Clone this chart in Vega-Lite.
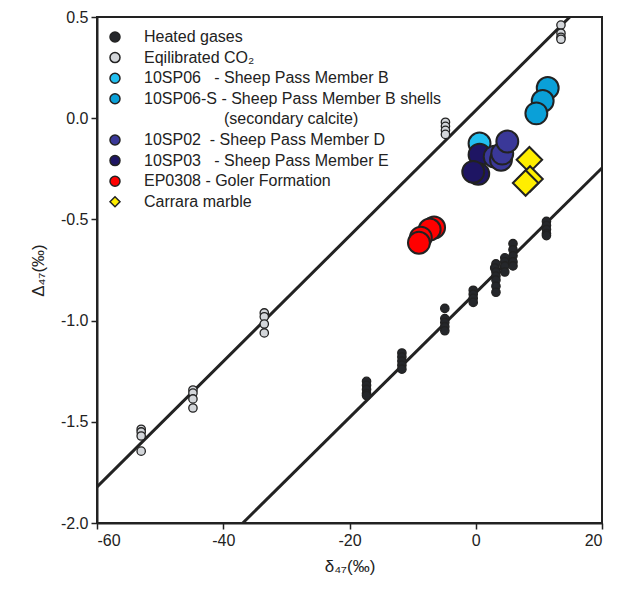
{
  "$schema": "https://vega.github.io/schema/vega-lite/v6.json",
  "width": 505,
  "height": 506,
  "autosize": "none",
  "padding": {"left": 97, "top": 17, "right": 18, "bottom": 66},
  "config": {
    "font": "Liberation Sans",
    "view": {"stroke": "#222", "strokeWidth": 2},
    "axis": {"grid": false, "domainColor": "#222", "domainWidth": 2, "tickColor": "#222", "tickWidth": 1.5, "tickSize": 6, "labelFontSize": 16, "labelColor": "#222", "labelPadding": 3, "titleFontSize": 17, "titleFontWeight": "normal", "titleColor": "#222"}
  },
  "datasets": {
    "lines": [
      {"line": "eq", "delta47": -60, "Delta47": -1.822},
      {"line": "eq", "delta47": 14.9, "Delta47": 0.5},
      {"line": "hg", "delta47": -36.9, "Delta47": -2.0},
      {"line": "hg", "delta47": 20, "Delta47": -0.246}
    ],
    "gases": [
      {"group": "EQ", "delta47": -53.0, "Delta47": -1.537},
      {"group": "EQ", "delta47": -53.0, "Delta47": -1.55},
      {"group": "EQ", "delta47": -53.0, "Delta47": -1.57},
      {"group": "EQ", "delta47": -53.0, "Delta47": -1.645},
      {"group": "EQ", "delta47": -44.8, "Delta47": -1.343},
      {"group": "EQ", "delta47": -44.8, "Delta47": -1.358},
      {"group": "EQ", "delta47": -44.8, "Delta47": -1.387},
      {"group": "EQ", "delta47": -44.8, "Delta47": -1.432},
      {"group": "EQ", "delta47": -33.5, "Delta47": -0.962},
      {"group": "EQ", "delta47": -33.5, "Delta47": -0.981},
      {"group": "EQ", "delta47": -33.5, "Delta47": -1.017},
      {"group": "EQ", "delta47": -33.5, "Delta47": -1.061},
      {"group": "EQ", "delta47": -4.8, "Delta47": -0.02},
      {"group": "EQ", "delta47": -4.8, "Delta47": -0.04},
      {"group": "EQ", "delta47": -4.8, "Delta47": -0.06},
      {"group": "EQ", "delta47": -4.8, "Delta47": -0.08},
      {"group": "EQ", "delta47": 13.5, "Delta47": 0.46},
      {"group": "EQ", "delta47": 13.5, "Delta47": 0.42},
      {"group": "EQ", "delta47": 13.5, "Delta47": 0.40},
      {"group": "EQ", "delta47": 13.5, "Delta47": 0.39},
      {"group": "HG", "delta47": -17.3, "Delta47": -1.30},
      {"group": "HG", "delta47": -17.3, "Delta47": -1.32},
      {"group": "HG", "delta47": -17.3, "Delta47": -1.34},
      {"group": "HG", "delta47": -17.3, "Delta47": -1.36},
      {"group": "HG", "delta47": -17.3, "Delta47": -1.37},
      {"group": "HG", "delta47": -11.7, "Delta47": -1.16},
      {"group": "HG", "delta47": -11.7, "Delta47": -1.18},
      {"group": "HG", "delta47": -11.7, "Delta47": -1.20},
      {"group": "HG", "delta47": -11.7, "Delta47": -1.22},
      {"group": "HG", "delta47": -11.7, "Delta47": -1.24},
      {"group": "HG", "delta47": -4.9, "Delta47": -0.94},
      {"group": "HG", "delta47": -4.9, "Delta47": -0.99},
      {"group": "HG", "delta47": -4.9, "Delta47": -1.01},
      {"group": "HG", "delta47": -4.9, "Delta47": -1.03},
      {"group": "HG", "delta47": -4.9, "Delta47": -1.05},
      {"group": "HG", "delta47": -0.4, "Delta47": -0.85},
      {"group": "HG", "delta47": -0.4, "Delta47": -0.87},
      {"group": "HG", "delta47": -0.4, "Delta47": -0.89},
      {"group": "HG", "delta47": -0.4, "Delta47": -0.91},
      {"group": "HG", "delta47": 3.2, "Delta47": -0.72},
      {"group": "HG", "delta47": 3.0, "Delta47": -0.74},
      {"group": "HG", "delta47": 3.2, "Delta47": -0.76},
      {"group": "HG", "delta47": 3.2, "Delta47": -0.78},
      {"group": "HG", "delta47": 3.2, "Delta47": -0.80},
      {"group": "HG", "delta47": 3.2, "Delta47": -0.83},
      {"group": "HG", "delta47": 3.2, "Delta47": -0.86},
      {"group": "HG", "delta47": 4.6, "Delta47": -0.69},
      {"group": "HG", "delta47": 4.6, "Delta47": -0.71},
      {"group": "HG", "delta47": 4.6, "Delta47": -0.73},
      {"group": "HG", "delta47": 4.6, "Delta47": -0.76},
      {"group": "HG", "delta47": 5.9, "Delta47": -0.62},
      {"group": "HG", "delta47": 5.9, "Delta47": -0.65},
      {"group": "HG", "delta47": 5.9, "Delta47": -0.68},
      {"group": "HG", "delta47": 5.9, "Delta47": -0.71},
      {"group": "HG", "delta47": 5.9, "Delta47": -0.73},
      {"group": "HG", "delta47": 11.2, "Delta47": -0.51},
      {"group": "HG", "delta47": 11.2, "Delta47": -0.53},
      {"group": "HG", "delta47": 11.2, "Delta47": -0.55},
      {"group": "HG", "delta47": 11.2, "Delta47": -0.57},
      {"group": "HG", "delta47": 11.2, "Delta47": -0.58}
    ],
    "samples": [
      {"group": "SP06", "delta47": 0.6, "Delta47": -0.125},
      {"group": "SP03", "delta47": 0.6, "Delta47": -0.18},
      {"group": "SP03", "delta47": 0.4, "Delta47": -0.275},
      {"group": "SP03", "delta47": -0.4, "Delta47": -0.265},
      {"group": "SP02", "delta47": 3.0, "Delta47": -0.19},
      {"group": "SP02", "delta47": 4.0, "Delta47": -0.205},
      {"group": "SP02", "delta47": 4.2, "Delta47": -0.175},
      {"group": "SP02", "delta47": 5.0, "Delta47": -0.115},
      {"group": "SP06S", "delta47": 11.4, "Delta47": 0.149},
      {"group": "SP06S", "delta47": 10.6, "Delta47": 0.085},
      {"group": "SP06S", "delta47": 9.6, "Delta47": 0.024},
      {"group": "EP", "delta47": -6.6, "Delta47": -0.54},
      {"group": "EP", "delta47": -7.3, "Delta47": -0.55},
      {"group": "EP", "delta47": -8.7, "Delta47": -0.59},
      {"group": "EP", "delta47": -9.0, "Delta47": -0.615},
      {"group": "CM", "delta47": 8.5, "Delta47": -0.205},
      {"group": "CM", "delta47": 8.6, "Delta47": -0.30},
      {"group": "CM", "delta47": 7.9, "Delta47": -0.32}
    ]
  },
  "encoding": {
    "x": {"field": "delta47", "type": "quantitative", "scale": {"domain": [-60, 20], "nice": false, "zero": false},
      "axis": {"values": [-60, -40, -20, 0, 20], "title": "δ₄₇(‰)", "titlePadding": 10,
        "labelExpr": "datum.value < 0 ? '-' + format(-datum.value, 'd') : format(datum.value, 'd')"}},
    "y": {"field": "Delta47", "type": "quantitative", "scale": {"domain": [-2, 0.5], "nice": false, "zero": false},
      "axis": {"values": [-2, -1.5, -1, -0.5, 0, 0.5], "title": "Δ₄₇(‰)", "titlePadding": 13,
        "labelExpr": "datum.value < 0 ? '-' + format(-datum.value, '.1f') : format(datum.value, '.1f')"}}
  },
  "layer": [
    {
      "data": {"name": "lines"},
      "mark": {"type": "line", "color": "#222", "strokeWidth": 3, "clip": true},
      "encoding": {"detail": {"field": "line", "type": "nominal"}}
    },
    {
      "data": {"name": "gases"},
      "mark": {"type": "point", "filled": true, "size": 70, "stroke": "#222", "strokeWidth": 1.3, "opacity": 1},
      "encoding": {
        "fill": {"field": "group", "type": "nominal",
          "scale": {"domain": ["HG", "EQ", "SP06", "SP06S", "SEC", "SP02", "SP03", "EP", "CM"],
                    "range": ["#25272b", "#d3d6da", "#22bff0", "#0aa0d8", "#ffffff", "#3a3898", "#1e1563", "#ff0000", "#ffee00"]},
          "legend": {"title": null, "orient": "none", "legendX": 10, "legendY": 12, "padding": 0, "labelFontSize": 16, "labelColor": "#222", "labelFont": "Liberation Sans", "labelLimit": 500, "symbolSize": 100, "symbolOpacity": 1, "rowPadding": 4.6, "labelOffset": 21,
            "encode": {"symbols": {"update": {"stroke": {"value": "#222"}, "strokeWidth": {"value": 1.2}}}},
            "labelExpr": "{'HG':'Heated gases','EQ':'Eqilibrated CO₂','SP06':'10SP06\u00a0\u00a0\u00a0- Sheep Pass Member B','SP06S':'10SP06-S - Sheep Pass Member B shells','SEC':'\u200b\u00a0\u00a0\u00a0\u00a0\u00a0\u00a0\u00a0\u00a0\u00a0\u00a0\u00a0\u00a0\u00a0\u00a0\u00a0\u00a0\u00a0\u00a0(secondary calcite)','SP02':'10SP02\u00a0\u00a0- Sheep Pass Member D','SP03':'10SP03\u00a0\u00a0\u00a0- Sheep Pass Member E','EP':'EP0308 - Goler Formation','CM':'Carrara marble'}[datum.label]"}},
        "shape": {"field": "group", "type": "nominal",
          "scale": {"domain": ["HG", "EQ", "SP06", "SP06S", "SEC", "SP02", "SP03", "EP", "CM"],
                    "range": ["circle", "circle", "circle", "circle", "M0,0", "circle", "circle", "circle", "diamond"]},
          "legend": {"title": null, "orient": "none", "legendX": 10, "legendY": 12, "padding": 0, "labelFontSize": 16, "labelColor": "#222", "labelFont": "Liberation Sans", "labelLimit": 500, "symbolSize": 100, "symbolOpacity": 1, "rowPadding": 4.6, "labelOffset": 21,
            "encode": {"symbols": {"update": {"stroke": {"value": "#222"}, "strokeWidth": {"value": 1.2}}}},
            "labelExpr": "{'HG':'Heated gases','EQ':'Eqilibrated CO₂','SP06':'10SP06\u00a0\u00a0\u00a0- Sheep Pass Member B','SP06S':'10SP06-S - Sheep Pass Member B shells','SEC':'\u200b\u00a0\u00a0\u00a0\u00a0\u00a0\u00a0\u00a0\u00a0\u00a0\u00a0\u00a0\u00a0\u00a0\u00a0\u00a0\u00a0\u00a0\u00a0(secondary calcite)','SP02':'10SP02\u00a0\u00a0- Sheep Pass Member D','SP03':'10SP03\u00a0\u00a0\u00a0- Sheep Pass Member E','EP':'EP0308 - Goler Formation','CM':'Carrara marble'}[datum.label]"}}
      }
    },
    {
      "data": {"name": "samples"},
      "transform": [{"filter": "datum.group !== 'CM'"}],
      "mark": {"type": "point", "filled": true, "size": 480, "stroke": "#222", "strokeWidth": 2, "opacity": 1},
      "encoding": {
        "fill": {"field": "group", "type": "nominal"},
        "shape": {"field": "group", "type": "nominal"}
      }
    },
    {
      "data": {"name": "samples"},
      "transform": [{"filter": "datum.group === 'CM'"}],
      "mark": {"type": "point", "filled": true, "size": 650, "stroke": "#222", "strokeWidth": 2, "opacity": 1},
      "encoding": {
        "fill": {"field": "group", "type": "nominal"},
        "shape": {"field": "group", "type": "nominal"}
      }
    }
  ]
}
